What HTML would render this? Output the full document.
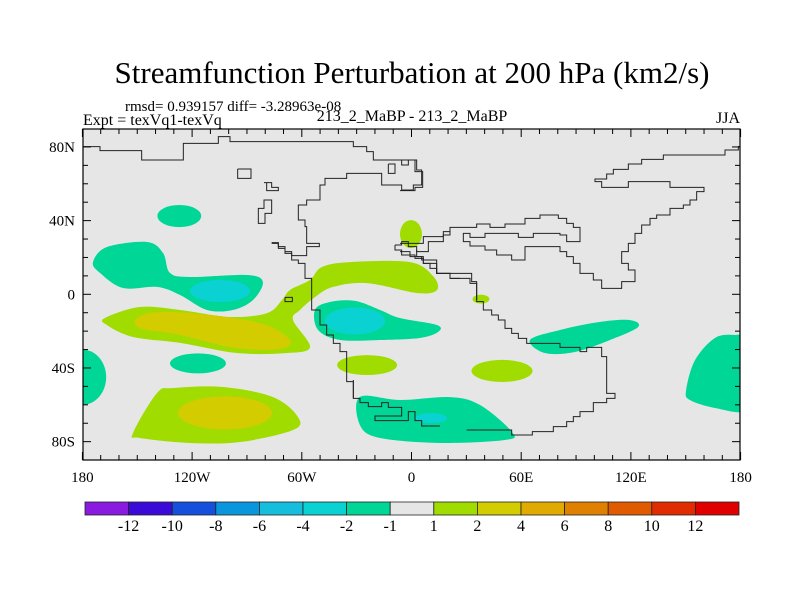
<!DOCTYPE html>
<html><head><meta charset="utf-8">
<style>
body{margin:0;background:#fff;}
svg{display:block;font-family:"Liberation Serif",serif;}
</style></head>
<body>
<svg id="chart" width="800" height="600" viewBox="0 0 800 600" xmlns="http://www.w3.org/2000/svg">
<defs><clipPath id="plotclip"><rect x="83" y="129" width="657" height="331"/></clipPath></defs>
<rect width="800" height="600" fill="#fff"/>
<text x="412" y="83" font-size="31" text-anchor="middle">Streamfunction Perturbation at 200 hPa (km2/s)</text>
<text x="125" y="111" font-size="15">rmsd= 0.939157 diff= -3.28963e-08</text>
<text x="83" y="125" font-size="16">Expt = texVq1-texVq</text>
<text x="412" y="121" font-size="16" text-anchor="middle">213_2_MaBP - 213_2_MaBP</text>
<text x="740" y="123" font-size="16" text-anchor="end">JJA</text>
<rect x="83" y="129" width="657" height="331" fill="#e6e6e6"/>
<g id="fills" clip-path="url(#plotclip)"></g>
<g id="coast" clip-path="url(#plotclip)" fill="none" stroke="#222" stroke-width="1"></g>
<g id="axes"></g>
<g id="cbar"></g>
</svg>
<script>
// ---- data ----
const xTickLabels = ["180","120W","60W","0","60E","120E","180"];
const xTickLons = [-180,-120,-60,0,60,120,180];
const yTickLabels = ["80N","40N","0","40S","80S"];
const yTickLats = [80,40,0,-40,-80];
const levelLabels = ["-12","-10","-8","-6","-4","-2","-1","1","2","4","6","8","10","12"];
const levelColors = ["#8a1ae0","#3c0ad8","#1450dc","#0a96dc","#14bedc","#0ad2d2","#00d796","#e6e6e6","#a0dc00","#d2cc00","#e0aa00","#e08000","#e05a00","#e02c00","#e00000"];
// contour regions: [colorIndex, [[lon,lat],...]]
const polyRegions = [
 [6, [[-174.2,17.5],[-166.6,25.7],[-144.7,28.4],[-135.9,22.4],[-132.1,11.6],[-121.2,9.4],[-90,10.5],[-81.3,6.7],[-86.7,-3.1],[-97.6,-8.5],[-111.9,-8.5],[-126.6,-0.4],[-139.2,4],[-157.8,3.4],[-170.4,11.6]]],
 [8, [[-167.7,-12.9],[-148.5,-6.9],[-126.6,-8.5],[-99.3,-12.3],[-79,-10.2],[-70.8,-3.1],[-66.5,2.3],[-55.5,7.8],[-49,14.8],[-33.6,17.5],[-0.8,17.5],[11.8,9.9],[13.9,2.3],[3,0.7],[-24.3,6.1],[-42.9,4],[-52.8,-1.5],[-61,-8.5],[-64.8,-14],[-55.5,-28.6],[-68.1,-31.9],[-95.5,-31.9],[-126.6,-26.4],[-152.3,-23.2],[-166.6,-16.7]]],
 [9, [[-150.2,-12.9],[-137.6,-9.6],[-110.2,-11.2],[-82.9,-15.6],[-69.2,-22.1],[-66.5,-27.5],[-77.4,-30.2],[-99.3,-28.6],[-126.6,-22.1],[-148.5,-18.3]]],
 [6, [[-52.8,-8.5],[-44.6,-4.2],[-30.9,-3.6],[-17.2,-8.5],[-6.3,-12.9],[13.9,-16.7],[14.5,-20.5],[4.6,-23.7],[-17.2,-24.8],[-39.1,-24.8],[-51.1,-19.4]]],
 [6, [[64.8,-24.8],[81.2,-19.4],[103.1,-15],[119.5,-14],[123.9,-17.8],[108.6,-24.8],[89.4,-31.3],[73,-31.9]]],
 [6, [[-28.2,-55.7],[-6.3,-57.4],[21.1,-55.8],[37.5,-60.1],[55,-74.8],[51.1,-79.1],[15.6,-80.7],[-17.2,-78],[-28.2,-71]]],
 [8, [[-152.3,-75.3],[-139.2,-53.6],[-130.4,-50.9],[-103.1,-50.3],[-75.7,-55.8],[-62.1,-66.6],[-64.8,-73.7],[-93.8,-80.2],[-121.2,-80.7],[-148.5,-78]]],
 [6, [[150.2,-52],[155.1,-35.7],[166,-23.7],[177,-22.1],[184,-24],[186,-45],[184,-63],[166,-61.7],[152.3,-57.4]]]
];
// elliptical regions: [colorIndex, lon, lat, rLon, rLat]
const ellRegions = [
 [6,-127,42.5,12,6],
 [5,-104.7,1.8,16.4,6],
 [5,-30.9,-14.5,16.4,7.3],
 [6,-116.8,-37.5,15.3,5.4],
 [8,-24.3,-38.4,16.4,5.4],
 [8,49.5,-41.6,16.7,6],
 [8,38,-2.6,4.6,2.4],
 [5,10.7,-67.2,8.7,2.7],
 [9,-102,-64.4,25.7,9],
 [6,-180,-45,13,15],
 [8,-0.3,32.7,6,7.6]
];
// ---- axes ----
const X0=83,X1=740,Y0=129,Y1=460;
const xs = lon => 411.5 + lon*1.8283;
const ys = lat => 294.3 - lat*1.842;
const NS="http://www.w3.org/2000/svg";
function mk(tag, attrs, parent){const e=document.createElementNS(NS,tag);for(const k in attrs)e.setAttribute(k,attrs[k]);parent.appendChild(e);return e;}
function smooth(pts){
 const n=pts.length;let d=`M${pts[0][0]},${pts[0][1]}`;
 for(let i=0;i<n;i++){const p0=pts[(i-1+n)%n],p1=pts[i],p2=pts[(i+1)%n],p3=pts[(i+2)%n];
  const c1=[p1[0]+(p2[0]-p0[0])/6,p1[1]+(p2[1]-p0[1])/6],c2=[p2[0]-(p3[0]-p1[0])/6,p2[1]-(p3[1]-p1[1])/6];
  d+=`C${c1[0]},${c1[1]} ${c2[0]},${c2[1]} ${p2[0]},${p2[1]}`;}
 return d+"Z";}
const fills=document.getElementById('fills');
const order=[0,6,2,3,4,5,7]; // draw polygons
polyRegions.slice(0,2).forEach((r,i)=>{});
// draw outer layers first then inner
const drawPoly=(r,i)=>{const p=mk('path',{d:smooth(r[1].map(q=>[xs(q[0]),ys(q[1])])),fill:levelColors[r[0]]},fills);
 
 };
const drawEll=(r,i)=>{const e=mk('ellipse',{cx:xs(r[1]),cy:ys(r[2]),rx:r[3]*1.8283,ry:r[4]*1.842,fill:levelColors[r[0]]},fills);
 
 };
[0,1,3,4,5,6,7].forEach(i=>drawPoly(polyRegions[i],i));
ellRegions.forEach((r,i)=>{ if(r[0]!==5 && r[0]!==9) drawEll(r,i);});
drawPoly(polyRegions[2],2);
ellRegions.forEach((r,i)=>{ if(r[0]===5 || r[0]===9) drawEll(r,i);});
// ---- coastlines (basemap, traced) ----
const Z1=p=>[40+p[0]/3,90+p[1]/3], Z2=p=>[40+p[0]/3,380+p[1]/3], Z4=p=>[400+p[0]/3,100+p[1]/3], Z5=p=>[80+p[0]/3,230+p[1]/3], Z6=p=>[300+p[0]/3,250+p[1]/3];
const coastLines=[
 [Z1,[[130,170],[180,170],[180,182],[305,182],[305,210],[430,210],[430,160],[535,160],[535,140],[570,140],[570,155],[940,155],[940,170],[980,170],[980,185],[1000,185],[1000,210],[1085,210],[1085,225],[1105,225],[1105,210],[1130,210],[1130,240],[1145,240],[1145,285],[1120,285],[1120,300],[1085,300],[1085,285],[1025,285],[1025,250],[920,250],[920,265],[855,265],[855,285],[840,285],[840,330],[800,330],[800,345],[775,345],[775,390],[795,390],[795,410],[800,410],[800,460],[838,460],[838,470],[800,470],[800,497],[755,497],[755,485],[735,485],[735,470],[715,470],[715,458],[695,458]]],
 [Z5,[[575,40],[595,40],[595,55],[615,55],[615,70],[635,70],[635,90],[655,90],[655,100],[675,100],[675,145],[695,145],[695,240],[720,240],[720,285],[740,285],[740,315],[760,315],[760,340],[780,340],[780,365],[800,365],[800,455],[820,455],[820,505]]],
 [Z2,[[940,0],[940,55],[960,55],[960,68],[985,68],[985,80],[1025,80],[1025,68],[1045,68],[1045,82],[1085,82],[1085,108],[1005,108],[1005,122],[1105,122],[1105,95],[1125,95],[1125,122],[1145,122],[1145,138],[1200,138]]],
 [Z6,[[350,0],[350,20],[370,20],[370,40],[410,40],[410,70],[450,70],[450,85],[510,85],[510,100],[530,100],[530,155],[550,155],[550,180],[575,180],[575,195],[595,195],[595,210],[615,210],[615,235],[635,235],[635,250],[655,250],[655,265],[680,265],[680,280],[780,280],[780,292],[840,292],[840,305],[860,305],[860,292],[905,292],[905,320],[920,320],[920,430],[945,430],[945,445],[920,445],[920,458],[880,458],[880,485],[840,485],[840,500],[820,500],[820,515],[800,515],[800,530],[760,530],[760,545],[697,545],[697,555],[635,555],[635,540],[500,540]]],
 [Z5,[[945,45],[965,45],[965,35],[985,35],[985,50],[1010,50],[1010,65],[1045,65],[1045,35],[1090,35],[1090,15],[1110,15],[1110,0]]],
 [Z5,[[945,45],[945,60],[965,60],[965,75],[1005,75],[1005,85],[1030,85],[1030,100],[1050,100],[1050,115],[1070,115],[1070,130],[1110,130],[1110,145],[1140,145]]],
 [Z4,[[0,455],[30,455],[30,470],[65,470],[65,480],[110,480],[110,520],[215,520],[215,545],[230,545],[230,600]]],
 [Z4,[[0,430],[70,430],[70,410],[130,410],[130,395],[150,395],[150,382],[230,382],[230,372],[270,372],[270,382],[315,382],[315,372],[375,372],[375,355],[420,355],[420,345],[475,345],[475,355],[500,355],[500,370],[520,370],[520,382],[540,382],[540,425],[500,425],[500,405],[480,405],[480,400],[400,400],[400,412],[355,412],[355,400],[255,400],[255,412],[210,412],[210,400],[190,400],[190,425],[210,425],[210,438],[255,438],[255,450],[290,450],[290,465],[335,465],[335,480],[375,480],[375,440],[480,440],[480,455],[500,455],[500,470],[520,470],[520,490],[540,490],[540,520],[580,520],[580,540],[605,540],[605,565],[665,565],[665,545],[705,545],[705,510],[685,510],[685,490],[665,490],[665,455],[685,455],[685,430],[705,430],[705,400],[725,400],[725,375],[750,375],[750,355],[770,355],[770,345],[810,345],[810,325],[850,325],[850,315],[870,315],[870,300],[890,300],[890,275],[912,275],[912,262],[810,262],[810,245],[685,245],[685,262],[605,262],[605,245],[585,245],[585,237],[620,237],[620,222],[640,222],[640,208],[685,208],[685,192],[725,192],[725,178],[790,178],[790,165],[975,165],[975,150],[1015,150],[1015,140],[1040,140]]],
 [Z1,[[593,237],[633,237],[633,265],[593,265],[593,237]]],
 [Z1,[[1045,222],[1065,222],[1065,250],[1045,250],[1045,222]]],
 [Z1,[[672,278],[695,278],[695,292],[715,292],[715,302],[680,302],[680,278]]],
 [Z1,[[680,330],[695,330],[695,370],[675,370],[675,400],[655,400],[655,355],[672,355],[672,330],[680,330]]],
 [Z4,[[0,180],[45,180],[45,215],[68,215],[68,262],[45,262],[45,272],[0,272]]],
 [Z5,[[615,202],[637,202],[637,215],[615,215],[615,202]]]
];
const coast=document.getElementById('coast');
coastLines.forEach((c,i)=>{const pts=c[1].map(c[0]).map(p=>p.join(',')).join(' ');
 const l=mk('polyline',{points:pts},coast);
 
 });
// ---- axes ----
const ax=document.getElementById('axes');
const frame=mk('rect',{x:X0,y:Y0,width:X1-X0,height:Y1-Y0,fill:'none',stroke:'#000','stroke-width':1.2},ax);


for(let lon=-180;lon<=180;lon+=10){const x=xs(lon),L=(lon%60===0)?8:5;
 mk('line',{x1:x,y1:Y1,x2:x,y2:Y1-L,stroke:'#000'},ax);mk('line',{x1:x,y1:Y0,x2:x,y2:Y0+L,stroke:'#000'},ax);}
for(let lat=-80;lat<=80;lat+=10){const y=ys(lat),L=(lat%40===0)?8:5;
 mk('line',{x1:X0,y1:y,x2:X0+L,y2:y,stroke:'#000'},ax);mk('line',{x1:X1,y1:y,x2:X1-L,y2:y,stroke:'#000'},ax);}
xTickLabels.forEach((t,i)=>{const e=mk('text',{x:xs(xTickLons[i]),y:482,'font-size':15,'text-anchor':'middle'},ax);e.textContent=t;
 
 });
yTickLabels.forEach((t,i)=>{const e=mk('text',{x:75,y:ys(yTickLats[i])+5,'font-size':15,'text-anchor':'end'},ax);e.textContent=t;
 
 });
// ---- colorbar ----
const cb=document.getElementById('cbar');
const cbX=85,cbW=43.6,cbY=502,cbH=13;
levelColors.forEach((c,i)=>{const r=mk('rect',{x:cbX+i*cbW,y:cbY,width:cbW,height:cbH,fill:c,stroke:'#222','stroke-width':0.8},cb);
 
 });
levelLabels.forEach((t,i)=>{const e=mk('text',{x:cbX+(i+1)*cbW,y:531,'font-size':16,'text-anchor':'middle'},cb);e.textContent=t;
 
 });
</script>
</body></html>
